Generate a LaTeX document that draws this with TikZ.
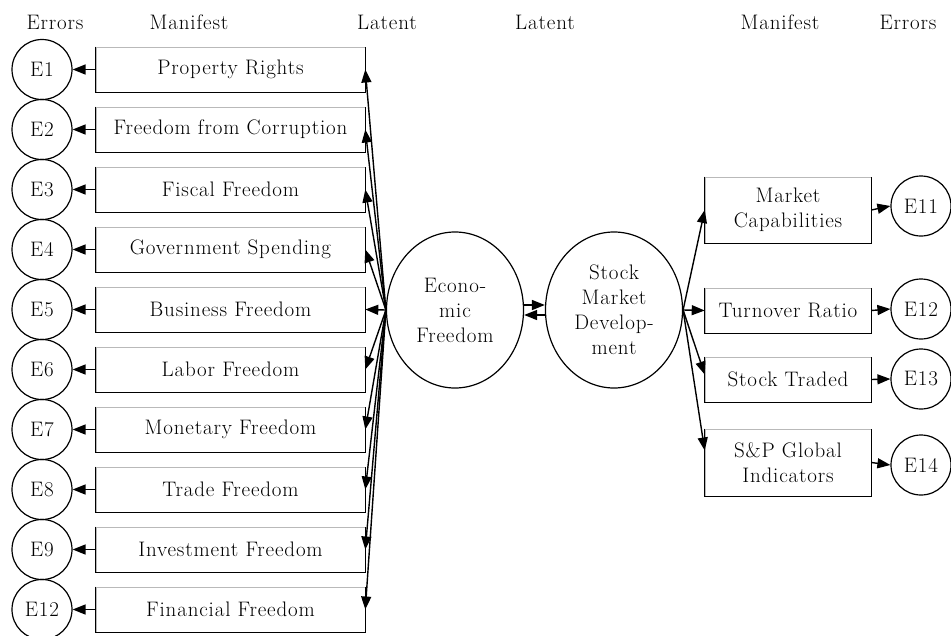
\documentclass[tikz,border=0pt]{standalone}
\usepackage{fontspec}
\setmainfont{Latin Modern Roman}[LetterSpace=4]
\usetikzlibrary{arrows.meta,shapes.geometric}
\begin{document}
\begin{tikzpicture}[x=1pt,y=-1pt,
  every node/.style={font=\fontsize{21}{25}\selectfont},
  mbox/.style={draw=gray!55,line width=0.6pt,minimum width=#1,inner sep=0pt,align=center},
  errc/.style={draw,circle,line width=1.2pt,minimum size=60pt,inner sep=0pt},
  latent/.style={draw,ellipse,line width=1.2pt,minimum width=137pt,minimum height=156pt,inner sep=0pt,align=center},
  arr/.style={line width=1.4pt,-{Triangle[length=13pt,width=10pt]}},
  edge/.style={line width=1.4pt},
  hdr/.style={inner sep=0pt}]
\useasboundingbox (0,0) rectangle (951,635);
% headers
\node[hdr] (h1) at (55,22) {Errors};
\node[hdr] (h2) at (189,22) {Manifest};
\node[hdr] (h3) at (387,22) {Latent};
\node[hdr] (h4) at (545,22) {Latent};
\node[hdr] (h5) at (780,22) {Manifest};
\node[hdr] (h6) at (908,22) {Errors};
% left boxes and errors
\foreach \i/\t/\e in {1/Property Rights/E1,2/Freedom from Corruption/E2,3/Fiscal Freedom/E3,
  4/Government Spending/E4,5/Business Freedom/E5,6/Labor Freedom/E6,7/Monetary Freedom/E7,
  8/Trade Freedom/E8,9/Investment Freedom/E9,10/Financial Freedom/E12}{
  \node[mbox=269pt,minimum height=45pt] (b\i) at (230.5,{9.5+60*\i}) {\t};
  \draw[edge] (b\i.north west) -- (b\i.south west) -- (b\i.south east) -- (b\i.north east);
  \node[errc] (l\i) at (42,{9.5+60*\i}) {\e};
}
% latent variables
\node[latent] (ef) at (455,310) {Econo-\\mic\\Freedom};
\node[latent] (smd) at (614,310) {Stock\\Market\\Develop-\\ment};
% right boxes
\node[mbox=166pt,minimum height=66pt] (mc) at (788,210) {Market\\Capabilities};
\node[mbox=166pt,minimum height=45pt] (tr) at (788,310.5) {Turnover Ratio};
\node[mbox=166pt,minimum height=45pt] (st) at (788,379.5) {Stock Traded};
\node[mbox=166pt,minimum height=67pt] (sp) at (788,462.5) {S\&P Global\\Indicators};
\foreach \b in {mc,tr,st,sp}{
  \draw[edge] (\b.north west) -- (\b.south west) -- (\b.south east) -- (\b.north east);
}
\node[errc] (r1) at (921,206) {E11};
\node[errc] (r2) at (921,309) {E12};
\node[errc] (r3) at (921,379) {E13};
\node[errc] (r4) at (921,465) {E14};
% left arrows
\foreach \i in {1,...,10}{
  \draw[arr] (ef.west) -- (b\i.east);
  \draw[arr] (b\i.west) -- (l\i.east);
}
% between latents
\draw[arr] ([yshift=5pt]ef.east) -- ([yshift=5pt]smd.west);
\draw[arr] ([yshift=-5pt]smd.west) -- ([yshift=-5pt]ef.east);
% right arrows
\draw[arr] (smd.east) -- (mc.west);
\draw[arr] (smd.east) -- (tr.west);
\draw[arr] (smd.east) -- ([yshift=5pt]st.west);
\draw[arr] (smd.east) -- ([yshift=12pt]sp.west);
\draw[arr] (mc.east) -- (r1.west);
\draw[arr] (tr.east) -- (r2.west);
\draw[arr] (st.east) -- (r3.west);
\draw[arr] (sp.east) -- (r4.west);
\end{tikzpicture}
\end{document}
